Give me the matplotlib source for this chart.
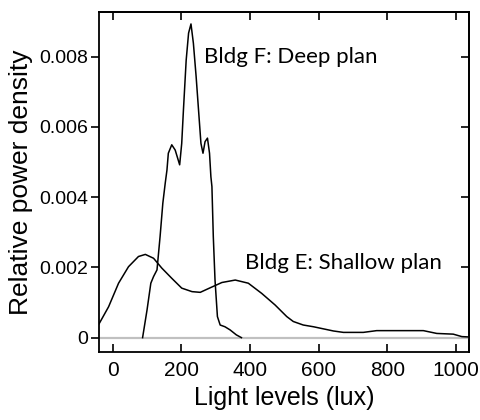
import matplotlib
matplotlib.use("Agg")
import matplotlib.pyplot as plt

# Bldg F: deep plan
f_lux = [87, 100, 111, 119, 129, 138, 146, 153, 158, 162, 172, 182, 195, 201, 206, 214,
         221, 228, 235, 243, 250, 257, 263, 269, 276, 282, 286, 289, 293, 298, 305,
         313, 327, 342, 360, 375]
f_den = [0.0, 0.00079, 0.00155, 0.00174, 0.00193, 0.00288, 0.00383, 0.0044, 0.00477,
         0.00525, 0.00549, 0.00534, 0.00492, 0.00553, 0.00648, 0.0079, 0.00867, 0.00893,
         0.00838, 0.00743, 0.00648, 0.00553, 0.00525, 0.00558, 0.00568, 0.00525,
         0.00458, 0.0043, 0.00288, 0.00164, 0.0006, 0.00036, 0.00031, 0.00022, 0.00008, 0.0]

# Bldg E: shallow plan
e_lux = [-40, -12, 17, 46, 75, 95, 119, 143, 172, 201, 231, 255, 284, 318, 357, 395, 434,
         473, 507, 526, 555, 585, 614, 643, 672, 730, 769, 837, 905, 944, 992, 1017, 1037]
e_den = [0.00039, 0.00088, 0.00155, 0.00202, 0.00231, 0.00237, 0.00226, 0.00198, 0.00169,
         0.00141, 0.00131, 0.00129, 0.00142, 0.00157, 0.00164, 0.00155, 0.00126, 0.00093,
         0.0006, 0.00046, 0.00036, 0.00031, 0.00025, 0.00019, 0.00015, 0.00015, 0.0002,
         0.0002, 0.0002, 0.00012, 0.0001, 0.00003, 0.00002]

xticks = [0, 200, 400, 600, 800, 1000]
yticks = [0, 0.002, 0.004, 0.006, 0.008]
ytick_labels = ["0", "0.002", "0.004", "0.006", "0.008"]

plt.rcParams['font.family'] = ['Liberation Sans', 'DejaVu Sans']

fig = plt.figure(figsize=(4.81, 4.20), dpi=100)
ax = fig.add_axes([0.2058, 0.1626, 0.7686, 0.8088])

ax.axhline(0, color='#c0c0c0', lw=1.6, zorder=1)
ax.plot(e_lux, e_den, color='black', lw=1.1, zorder=2)
ax.plot(f_lux, f_den, color='black', lw=1.1, zorder=2)

ax.set_xlim(-40, 1037)
ax.set_ylim(-0.0004, 0.00927)

ax.set_xticks(xticks)
ax.set_yticks(yticks)
ax.set_yticklabels(ytick_labels)
ax.tick_params(axis='x', direction='in', length=6, width=1.2, labelsize=15, pad=7)
ax.tick_params(axis='y', direction='out', length=6, width=1.2, labelsize=14, pad=2)

top = ax.secondary_xaxis('top')
top.set_xticks(xticks)
top.tick_params(direction='in', length=6, width=1.2, labeltop=False)
right = ax.secondary_yaxis('right')
right.set_yticks(yticks)
right.tick_params(direction='in', length=6, width=1.2, labelright=False)

for a in (ax, top, right):
    for s in a.spines.values():
        s.set_linewidth(1.3)

ax.set_xlabel("Light levels (lux)", fontsize=18, labelpad=4)
ax.set_ylabel("Relative power density", fontsize=19, labelpad=4)

ax.text(266, 0.0080, "Bldg F: Deep plan", family=['Lato', 'DejaVu Sans'],
        fontsize=16, va='center', ha='left')
ax.text(386, 0.00213, "Bldg E: Shallow plan", family=['Lato', 'DejaVu Sans'],
        fontsize=16, va='center', ha='left')

fig.savefig("out.png", dpi=100)
